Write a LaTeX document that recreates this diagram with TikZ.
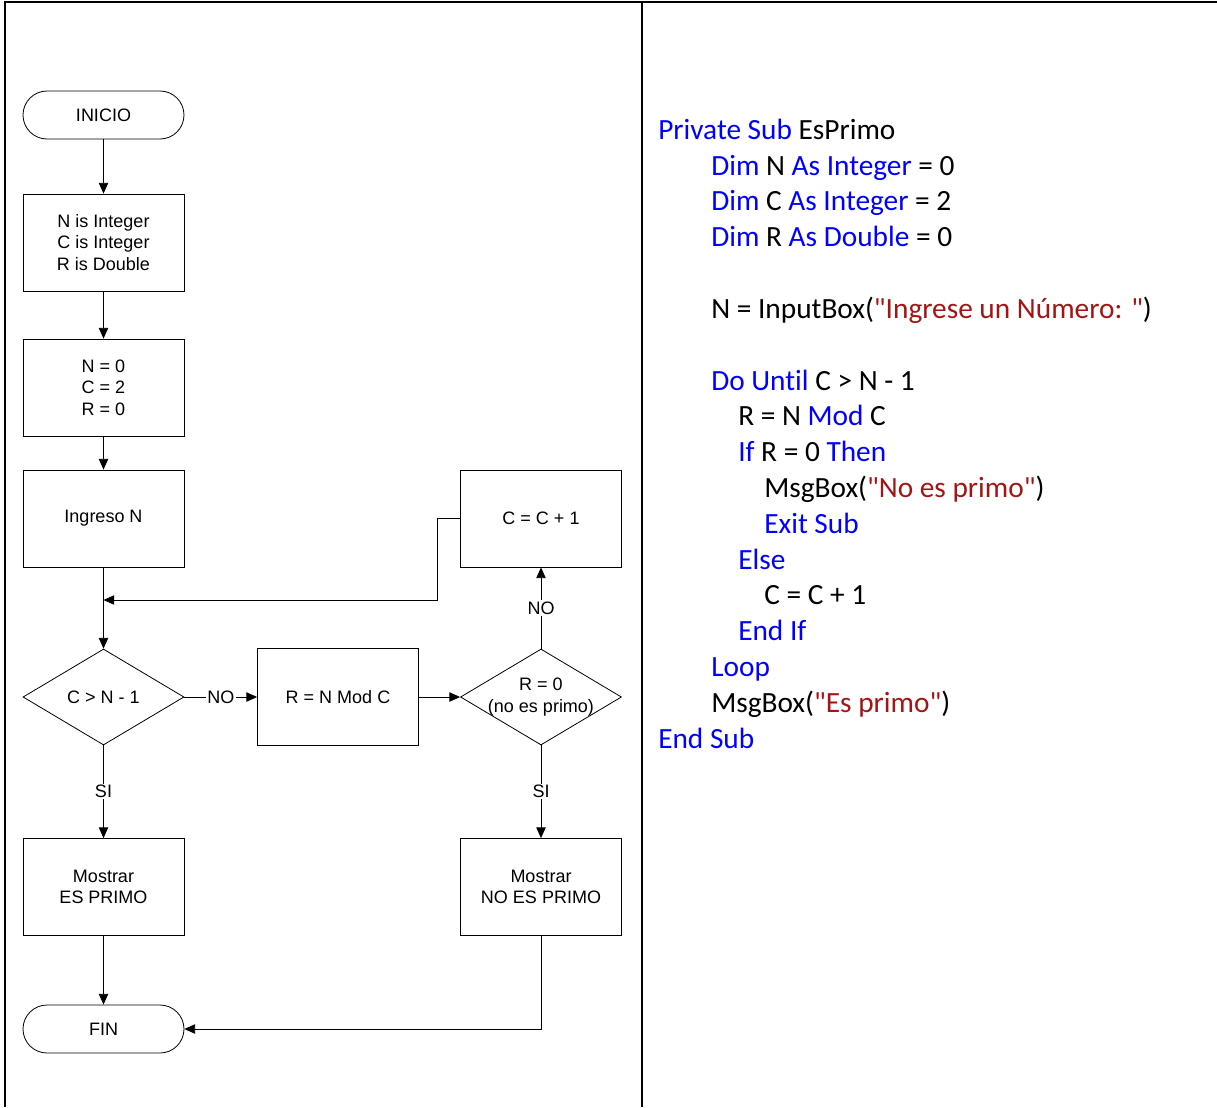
\documentclass[tikz,border=0pt]{standalone}
\usepackage{fontspec}
\setmainfont{Liberation Sans}
\newfontfamily\codefont[Ligatures={NoCommon}]{Carlito}
\usetikzlibrary{shapes.geometric,arrows.meta}
\definecolor{kw}{RGB}{0,0,255}
\definecolor{strc}{RGB}{163,21,21}
\begin{document}
\begin{tikzpicture}[x=0.75pt,y=-0.75pt,
  every node/.style={font=\fontsize{13.5}{16}\selectfont},
  proc/.style={draw, rectangle, minimum width=120.75pt, minimum height=72.75pt, align=center, inner sep=0pt, line width=0.6pt},
  term/.style={draw, rectangle, rounded corners=18pt, minimum width=120.75pt, minimum height=36pt, inner sep=0pt, line width=0.6pt},
  dec/.style={draw, diamond, minimum width=120.75pt, minimum height=72pt, inner sep=0pt, line width=0.6pt},
  lbl/.style={fill=white, inner sep=1pt},
  flow/.style={line width=0.6pt, -{Triangle[length=8pt,width=7pt]}},
  code/.style={anchor=base west, inner sep=0pt, font=\codefont\fontsize{22}{26}\selectfont},
  border/.style={line width=1.6pt}
]
\useasboundingbox (0,0) rectangle (1217,1107);
% frame
\draw[border] (5,1107) -- (5,2) -- (1217,2);
\draw[border] (642,2) -- (642,1107);

% flowchart nodes
\node[term] (ini) at (103.5,115) {INICIO};
\node[proc] (b1) at (103.5,242.5) {N is Integer\\C is Integer\\R is Double};
\node[proc] (b2) at (103.5,387.5) {N = 0\\C = 2\\R = 0};
\node[proc] (b3) at (103.5,518.5) {Ingreso N};
\node[dec] (d1) at (103.5,697) {};
\node (t1) at (d1.center) {C > N - 1};
\node[proc] (b4) at (338,697) {R = N Mod C};
\node[dec] (d2) at (541,697) {};
\node[align=center] (t2) at (d2.center) {R = 0\\(no es primo)};
\node[proc] (b5) at (541,518.5) {C = C + 1};
\node[proc] (b6) at (103.5,887) {Mostrar\\ES PRIMO};
\node[proc] (b7) at (541,887) {Mostrar\\NO ES PRIMO};
\node[term] (fin) at (103.5,1029) {FIN};
\coordinate (m) at (103.5,600);

% connectors
\draw[flow] (ini) -- (b1);
\draw[flow] (b1) -- (b2);
\draw[flow] (b2) -- (b3);
\draw[flow] (b3) -- (d1);
\draw[flow] (b5.west) -- (437,518.5) |- (m);
\draw[flow] (d1) -- node[lbl]{NO} (b4);
\draw[flow] (b4) -- (d2);
\draw[flow] (d2) -- node[lbl]{NO} (b5);
\draw[flow] (d1) -- node[lbl]{SI} (b6);
\draw[flow] (d2) -- node[lbl]{SI} (b7);
\draw[flow] (b6) -- (fin);
\draw[flow] (b7) |- (fin);

% code
\node[code] (c1) at (658,139) {\textcolor{kw}{Private Sub} EsPrimo};
\node[code] (c2) at (711,175) {\textcolor{kw}{Dim} N \textcolor{kw}{As Integer} = 0};
\node[code] (c3) at (711,210) {\textcolor{kw}{Dim} C \textcolor{kw}{As Integer} = 2};
\node[code] (c4) at (711,246) {\textcolor{kw}{Dim} R \textcolor{kw}{As Double} = 0};
\node[code] (c5) at (711,318) {N = InputBox(\textcolor{strc}{"Ingrese un Número: "})};
\node[code] (c6) at (711,390) {\textcolor{kw}{Do Until} C > N - 1};
\node[code] (c7) at (738,425) {R = N \textcolor{kw}{Mod} C};
\node[code] (c8) at (738,461) {\textcolor{kw}{If} R = 0 \textcolor{kw}{Then}};
\node[code] (c9) at (764,497) {MsgBox(\textcolor{strc}{"No es primo"})};
\node[code] (c10) at (764,533) {\textcolor{kw}{Exit Sub}};
\node[code] (c11) at (738,569) {\textcolor{kw}{Else}};
\node[code] (c12) at (764,604) {C = C + 1};
\node[code] (c13) at (738,640) {\textcolor{kw}{End If}};
\node[code] (c14) at (711,676) {\textcolor{kw}{Loop}};
\node[code] (c15) at (711,712) {MsgBox(\textcolor{strc}{"Es primo"})};
\node[code] (c16) at (658,748) {\textcolor{kw}{End Sub}};
\end{tikzpicture}
\end{document}
